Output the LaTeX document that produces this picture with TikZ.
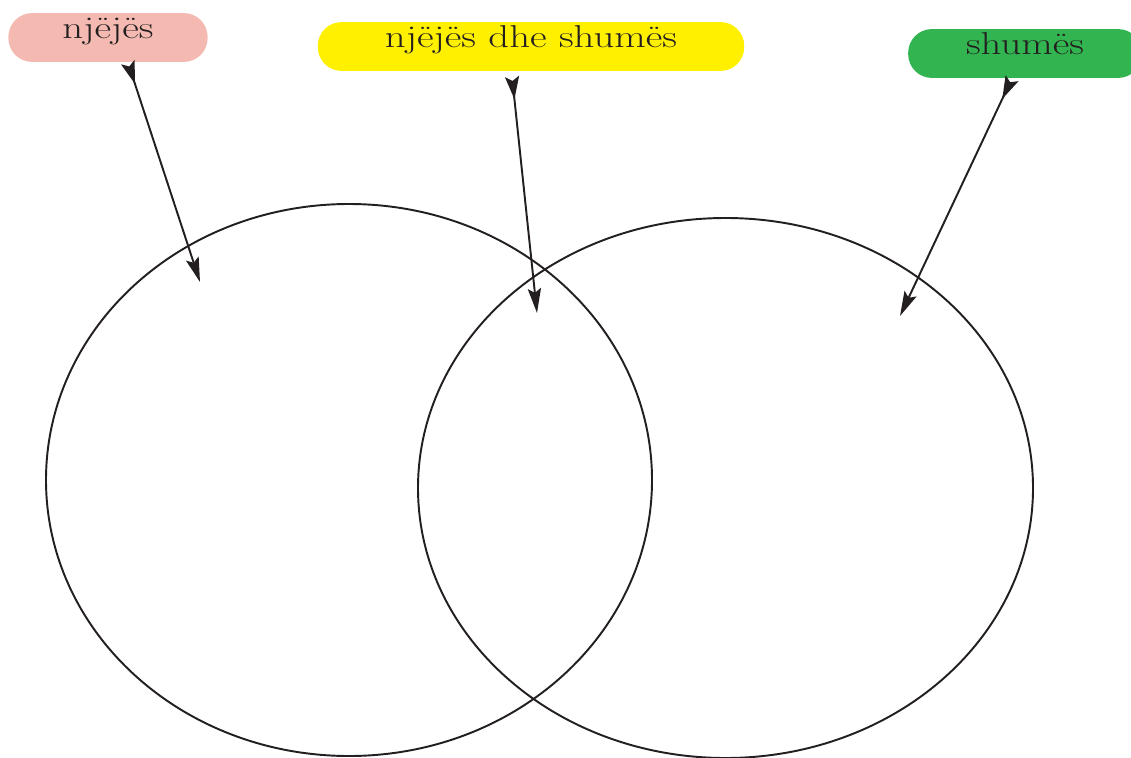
\documentclass[tikz,border=0pt]{standalone}
\usepackage{graphicx}
\usepackage{tikz}
\usetikzlibrary{arrows.meta}
\definecolor{inkc}{RGB}{35,31,32}
\definecolor{pinkc}{RGB}{244,186,178}
\definecolor{yellowc}{RGB}{255,240,0}
\definecolor{greenc}{RGB}{50,180,80}
\newcommand{\widetag}[1]{\scalebox{1.29}[1]{#1}}

\begin{document}
\begin{tikzpicture}[x=0.02cm,y=-0.02cm]
\tikzset{every node/.style={font=\fontsize{18}{21}\selectfont,text=inkc},
  tag/.style={rounded corners=13.5pt,minimum height=27.8pt,inner sep=0pt,text height=7pt,text depth=6pt},
  pointer/.style={draw=inkc,line width=1.1pt,{Stealth[reversed,length=13pt,width=8pt,inset=2.5pt]}-{Stealth[length=14pt,width=7.5pt,inset=2.5pt]}}}
\useasboundingbox (0,0) rectangle (1131,757);
\draw[inkc,line width=1.1pt](349,480) ellipse [x radius=303,y radius=276];
\draw[inkc,line width=1.1pt](725.5,488) ellipse [x radius=307.5,y radius=270];
\node[tag,fill=pinkc,minimum width=113.4pt](sing) at (108,37.5){\widetag{njëjës}};
\node[tag,fill=yellowc,minimum width=242.7pt](both) at (531,46.5){\widetag{njëjës dhe shumës}};
\node[tag,fill=greenc,minimum width=133pt](plur) at (1025,53.5){\widetag{shumës}};
\coordinate (a1) at (200,282);
\coordinate (a2) at (537,313);
\coordinate (a3) at (900,316);
\draw[pointer]([xshift=11.3pt]sing.south)--(a1);
\draw[pointer]([xshift=-10.8pt,yshift=-3pt]both.south)--(a2);
\draw[pointer]([xshift=-7.4pt]plur.south)--(a3);

\end{tikzpicture}
\end{document}
